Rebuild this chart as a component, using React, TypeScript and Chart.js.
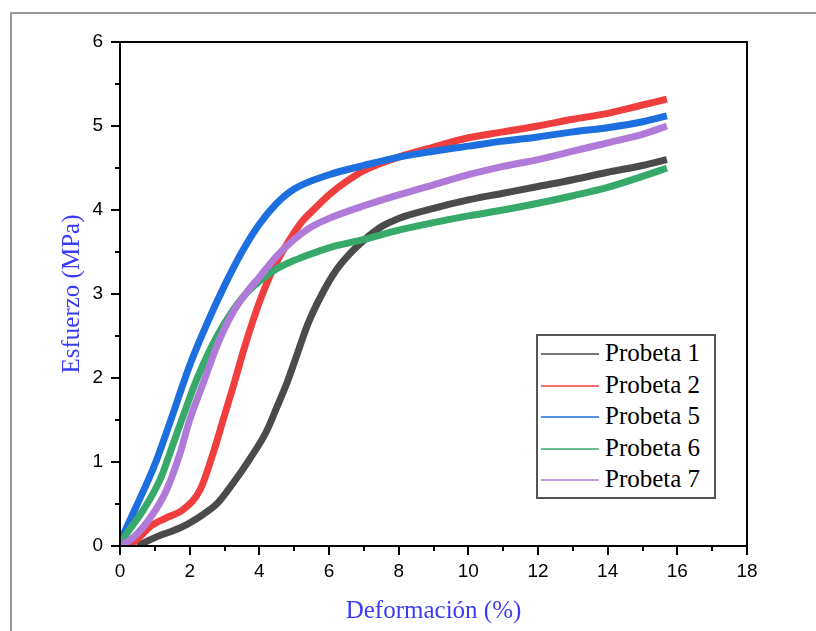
import React, { useEffect, useRef } from 'react';
import { Chart, registerables } from 'chart.js';
Chart.register(...registerables);

const seriesNames = ['Probeta 1', 'Probeta 2', 'Probeta 5', 'Probeta 6', 'Probeta 7'];
const seriesColors = ['#4b4b4b', '#f03e3e', '#1d6fe0', '#37a96b', '#b07ad9'];

const p1Strain = [0.5, 1.0, 1.8, 2.4, 2.8, 3.25, 3.7, 4.2, 4.5, 4.8, 5.1, 5.4, 5.8, 6.2, 6.6, 7.0, 7.5, 8.0, 9.0, 10.0, 11.0, 12.0, 13.0, 14.0, 15.0, 15.7];
const p1Stress = [0, 0.1, 0.23, 0.38, 0.51, 0.75, 1.02, 1.36, 1.65, 1.95, 2.3, 2.65, 3.0, 3.28, 3.48, 3.64, 3.8, 3.9, 4.02, 4.12, 4.2, 4.28, 4.36, 4.45, 4.53, 4.6];

const p2Strain = [0.2, 0.5, 0.86, 1.3, 1.8, 2.3, 2.67, 2.96, 3.25, 3.6, 4.0, 4.4, 4.8, 5.2, 5.6, 6.0, 6.5, 7.0, 8.0, 9.0, 10.0, 11.0, 12.0, 13.0, 14.0, 15.0, 15.7];
const p2Stress = [0, 0.08, 0.23, 0.33, 0.43, 0.67, 1.1, 1.5, 1.9, 2.4, 2.9, 3.3, 3.6, 3.85, 4.02, 4.18, 4.34, 4.47, 4.63, 4.75, 4.86, 4.93, 5.0, 5.08, 5.15, 5.25, 5.32];

const p5Strain = [0, 0.5, 1.0, 1.5, 2.0, 2.5, 3.0, 3.5, 4.0, 4.5, 5.0, 6.0, 7.0, 8.0, 9.0, 10.0, 11.0, 12.0, 13.0, 14.0, 15.0, 15.7];
const p5Stress = [0.05, 0.5, 0.97, 1.55, 2.15, 2.65, 3.1, 3.5, 3.83, 4.08, 4.25, 4.42, 4.53, 4.63, 4.7, 4.76, 4.82, 4.87, 4.93, 4.98, 5.05, 5.12];

const p6Strain = [0, 0.2, 0.67, 1.15, 1.53, 1.91, 2.2, 2.6, 3.0, 3.5, 4.0, 4.5, 5.0, 5.5, 6.0, 7.0, 8.0, 9.0, 10.0, 11.0, 12.0, 13.0, 14.0, 15.0, 15.7];
const p6Stress = [0.02, 0.15, 0.43, 0.79, 1.22, 1.66, 1.98, 2.35, 2.65, 2.95, 3.15, 3.3, 3.4, 3.48, 3.55, 3.65, 3.76, 3.85, 3.93, 4.0, 4.08, 4.17, 4.27, 4.4, 4.5];

const p7Strain = [0, 0.38, 0.96, 1.34, 1.72, 2.0, 2.39, 2.8, 3.2, 3.6, 4.0, 4.5, 5.0, 5.5, 6.0, 7.0, 8.0, 9.0, 10.0, 11.0, 12.0, 13.0, 14.0, 15.0, 15.7];
const p7Stress = [0, 0.1, 0.39, 0.67, 1.1, 1.5, 1.94, 2.4, 2.75, 3.0, 3.2, 3.45, 3.65, 3.8, 3.9, 4.05, 4.18, 4.3, 4.42, 4.52, 4.6, 4.7, 4.8, 4.9, 5.0];

const strains = [p1Strain, p2Strain, p5Strain, p6Strain, p7Strain];
const stresses = [p1Stress, p2Stress, p5Stress, p6Stress, p7Stress];

const xMajorTicks = [0, 2, 4, 6, 8, 10, 12, 14, 16, 18];
const xMinorTicks = [1, 3, 5, 7, 9, 11, 13, 15, 17];
const yMajorTicks = [0, 1, 2, 3, 4, 5, 6];
const yMinorTicks = [0.5, 1.5, 2.5, 3.5, 4.5, 5.5];

const xTitle = 'Deformación (%)';
const yTitle = 'Esfuerzo (MPa)';

const boxPlugin = {
  id: 'boxAndTicks',
  afterDraw(chart: any) {
    const { ctx, chartArea, scales } = chart;
    const { left, right, top, bottom } = chartArea;
    const x = scales.x;
    const y = scales.y;
    ctx.save();
    ctx.strokeStyle = '#000';
    ctx.lineWidth = 2;
    ctx.strokeRect(left, top, right - left, bottom - top);
    ctx.beginPath();
    xMajorTicks.forEach((v) => {
      const px = Math.round(x.getPixelForValue(v));
      ctx.moveTo(px, bottom);
      ctx.lineTo(px, bottom + 9);
    });
    xMinorTicks.forEach((v) => {
      const px = Math.round(x.getPixelForValue(v));
      ctx.moveTo(px, bottom);
      ctx.lineTo(px, bottom + 5);
    });
    yMajorTicks.forEach((v) => {
      const py = Math.round(y.getPixelForValue(v));
      ctx.moveTo(left, py);
      ctx.lineTo(left - 9, py);
    });
    yMinorTicks.forEach((v) => {
      const py = Math.round(y.getPixelForValue(v));
      ctx.moveTo(left, py);
      ctx.lineTo(left - 5, py);
    });
    ctx.stroke();
    ctx.restore();
  },
};

export default function App() {
  const canvasRef = useRef<HTMLCanvasElement | null>(null);

  useEffect(() => {
    const canvas = canvasRef.current;
    if (!canvas) return;
    const n = seriesNames.length;
    const chart = new Chart(canvas, {
      type: 'line',
      data: {
        datasets: seriesNames.map((name, i) => ({
          label: name,
          data: strains[i].map((s, j) => ({ x: s, y: stresses[i][j] })),
          borderColor: seriesColors[i],
          backgroundColor: seriesColors[i],
          borderWidth: 7,
          pointRadius: 0,
          cubicInterpolationMode: 'monotone' as const,
          order: n - 1 - i,
        })),
      },
      options: {
        animation: false,
        responsive: false,
        maintainAspectRatio: false,
        layout: { padding: { top: 42, right: 69, left: 0, bottom: 0 } },
        plugins: { legend: { display: false }, tooltip: { enabled: false } },
        scales: {
          x: {
            type: 'linear',
            min: 0,
            max: 18,
            afterFit: (scale: any) => { scale.height = 85; },
            afterBuildTicks: (scale: any) => { scale.ticks = xMajorTicks.map((v) => ({ value: v })); },
            ticks: {
              color: '#000',
              padding: 14,
              maxRotation: 0,
              font: { family: '"Liberation Sans", Arial, sans-serif', size: 19 },
            },
            grid: { display: false, drawTicks: false },
            border: { display: true, color: '#000', width: 2 },
            title: {
              display: true,
              text: xTitle,
              color: '#3b3bf5',
              font: { family: '"Liberation Serif", "Times New Roman", serif', size: 25 },
              padding: { top: 0, bottom: 5 },
            },
          },
          y: {
            type: 'linear',
            min: 0,
            max: 6,
            afterFit: (scale: any) => { scale.width = 120; },
            afterBuildTicks: (scale: any) => { scale.ticks = yMajorTicks.map((v) => ({ value: v })); },
            ticks: {
              color: '#000',
              padding: 17,
              font: { family: '"Liberation Sans", Arial, sans-serif', size: 19 },
            },
            grid: { display: false, drawTicks: false },
            border: { display: true, color: '#000', width: 2 },
            title: {
              display: true,
              text: yTitle,
              color: '#3b3bf5',
              font: { family: '"Liberation Serif", "Times New Roman", serif', size: 25 },
              padding: { top: 57, bottom: 0 },
            },
          },
        },
      },
      plugins: [boxPlugin],
    });
    return () => chart.destroy();
  }, []);

  return (
    <div style={{ position: 'absolute', left: 0, top: 0, width: 816, height: 631, background: '#fff', overflow: 'hidden' }}>
      <div style={{ position: 'absolute', left: 10, top: 12, width: 830, height: 640, borderTop: '2px solid #9a9a9a', borderLeft: '2px solid #9a9a9a' }} />
      <canvas ref={canvasRef} width={816} height={631} style={{ position: 'absolute', left: 0, top: 0, width: 816, height: 631 }} />
      <div style={{ position: 'absolute', left: 536, top: 334, width: 176, height: 161, border: '2px solid #555', background: '#fff', boxSizing: 'content-box' }}>
        {seriesNames.map((name, i) => (
          <div key={name} style={{ position: 'absolute', left: 0, top: 2 + i * 31.6, height: 30, width: 176 }}>
            <div style={{ position: 'absolute', left: 3, top: 15, width: 58, height: 2, background: seriesColors[i], opacity: 0.75 }} />
            <div style={{ position: 'absolute', left: 67, top: 0, height: 30, lineHeight: '30px', fontFamily: '"Liberation Serif", "Times New Roman", serif', fontSize: 25, color: '#000', whiteSpace: 'nowrap' }}>{name}</div>
          </div>
        ))}
      </div>
    </div>
  );
}
